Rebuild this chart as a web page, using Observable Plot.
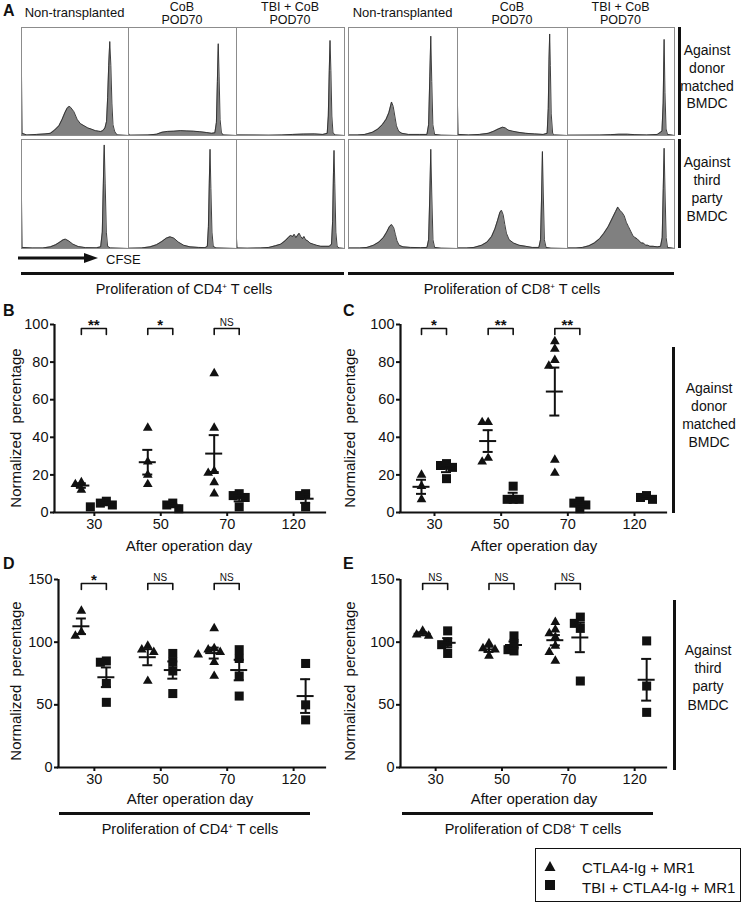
<!DOCTYPE html>
<html><head><meta charset="utf-8">
<script src="https://cdn.jsdelivr.net/npm/d3@7"></script>
<script src="https://cdn.jsdelivr.net/npm/@observablehq/plot@0.6"></script>
<style>
body{margin:0;background:#fff;}
#fig{position:relative;width:742px;height:902px;font-family:"Liberation Sans",Arial,Helvetica,sans-serif;color:#111;overflow:hidden;background:#fff;}
.t{position:absolute;white-space:nowrap;line-height:1;}
.t sup{font-size:0.55em;vertical-align:0.55em;}
</style></head><body><div id="fig"></div><script>
// ---------- labels ----------
const days = ["30", "50", "70", "120"];
const groupNames = ["CTLA4-Ig + MR1", "TBI + CTLA4-Ig + MR1"];
const conditionLabels = [["Non-transplanted"], ["CoB", "POD70"], ["TBI + CoB", "POD70"]];
const rowLabelsDonor = ["Against", "donor", "matched", "BMDC"];
const rowLabelsThird = ["Against", "third", "party", "BMDC"];

// ---------- Panel A: CFSE histograms, [CFSE %, count %] ----------
const cd4DonorNonTx = [[0,56],[0.6,2],[5,0.5],[14,1],[22,1.5],[27,2],[31,5],[35,9],[38,15],[40.5,21],[42.5,25],[44.5,27],[46,26],[49,22],[52,15],[55,11],[58.5,9],[62,7],[65,6],[69,4.5],[72,4],[74,3.7],[76,4.5],[78,7],[79.5,13],[80.5,35],[81.5,65],[82.5,87],[83.5,65],[84.5,30],[85.5,10],[87,4],[88.5,1.5],[90,0.5],[100,0]];
const cd4DonorCoB = [[0,2],[1,0.3],[18,0.5],[26,1.2],[31,3],[36,3.8],[42,4],[48,4.5],[54,4.2],[60,4],[66,3.5],[72,2.8],[77,2],[80,2.5],[81.4,12],[82.3,50],[83.1,85],[83.9,55],[84.8,15],[86,3],[87.5,0.5],[100,0]];
const cd4DonorTBI = [[0,0.5],[30,0.3],[42,0.5],[52,1],[62,1.3],[72,1.5],[80,1],[84,2],[85,18],[85.9,60],[86.6,88],[87.4,60],[88.3,18],[89.3,3],[91,0.5],[100,0]];
const cd8DonorNonTx = [[0,0.5],[8,0.5],[15,1],[22,3],[27,6],[31,10],[34.5,15],[37,21],[39.5,31],[41,27],[42.5,18],[44,9],[46,4],[49,2],[55,1],[65,1],[72,1],[73.5,10],[74.6,55],[75.5,92],[76.4,50],[77.4,10],[79,1],[85,0.3],[100,0]];
const cd8DonorCoB = [[0,28],[0.6,1],[10,0.5],[20,1],[28,2],[33,4],[37,6],[41,7.7],[43.5,7],[46,5],[50,4],[55,3],[62,2],[70,1.5],[78,1],[81.5,2],[82.5,25],[83.2,70],[83.8,94],[84.4,65],[85.2,20],[86.5,2],[88,0.5],[100,0]];
const cd8DonorTBI = [[0,0.3],[30,0.4],[40,0.8],[48,1.2],[56,1.2],[63,0.8],[74,0.5],[84,1],[88.3,4],[89.4,30],[90.3,89],[91.1,40],[92.1,6],[93.5,1],[100,0]];
const cd4ThirdNonTx = [[0,45],[0.6,1],[10,0.5],[20,0.5],[27,1.5],[32,3.5],[36,6],[39,8],[41,8.6],[44,7],[48,4],[53,1.8],[60,0.8],[70,0.6],[74,1.5],[75.5,15],[76.5,60],[77.3,95],[78.2,60],[79.3,15],[80.5,2],[83,0.5],[100,0]];
const cd4ThirdCoB = [[0,1],[1,0.3],[12,0.5],[20,1.5],[26,3.5],[31,6.5],[35,9.5],[38.5,10.7],[42,9.5],[46,6],[51,3],[57,1.5],[65,1],[71,0.8],[73,2],[74,20],[74.8,60],[75.5,91],[76.3,55],[77.3,15],[78.5,2],[81,0.5],[100,0]];
const cd4ThirdTBI = [[0,9],[0.6,0.5],[10,0.3],[22,0.5],[30,1],[36,2.5],[41,4],[45,7],[48,10],[50,12],[52,11],[53.5,13],[55,10],[56.5,12],[58,14],[59.5,11],[61,9],[62.5,11],[64,8],[66,7],[68,5],[71,4],[74,3],[78,2],[82,2],[86,2],[88,4],[89,25],[89.8,70],[90.3,90],[91,60],[92,15],[93.2,2],[95,0.5],[100,0]];
const cd8ThirdNonTx = [[0,0.5],[10,0.5],[17,1],[23,3],[28,6],[32,10],[35,15],[37.5,20],[39.5,22],[41.5,19],[43,13],[44.5,7],[46.5,3],[50,1.5],[57,1],[66,0.8],[72,1],[73.5,8],[74.6,50],[75.5,91],[76.4,50],[77.5,8],[79,1],[85,0.3],[100,0]];
const cd8ThirdCoB = [[0,0.5],[8,0.5],[15,1],[22,3],[27,6],[31,11],[34,18],[36.5,26],[38.5,33],[40,35],[41.5,31],[43,22],[44.5,14],[47,8],[51,5],[56,3],[62,2],[68,1],[74,1],[75.5,8],[76.5,50],[77.2,89],[78,50],[79,8],[80.5,1],[85,0.3],[100,0]];
const cd8ThirdTBI = [[0,0.5],[8,0.5],[14,1],[20,2.5],[25,5],[30,9],[34,14],[38,20],[42,28],[45,34],[47,38],[49,35],[51,33],[53,30],[55,24],[57,20],[59,16],[61,12],[63,10],[65,9],[67,7],[69,5],[71,5],[73,3],[75,3],[77,2],[80,2],[84,1.5],[87,2],[88.5,10],[89.5,55],[90.3,92],[91.2,50],[92.2,10],[93.5,1],[100,0]];

// ---------- Panels B-E: normalized percentage per animal ----------
// B: CD4+, against donor matched BMDC
const cd4DonorCTLA = [[12, 16, 15], [45, 27, 20, 15], [74, 45, 21, 22, 16, 10], []];
const cd4DonorTBIpts = [[6, 5, 3, 4], [2, 4, 5], [10, 9, 8, 3], [10, 9, 3]];
const cd4DonorSig = ["**", "*", "NS"];
// C: CD8+, against donor matched BMDC
const cd8DonorCTLA = [[20, 14, 7], [48, 48, 27, 29], [87, 91, 81, 78, 28, 21], []];
const cd8DonorTBIpts = [[26, 25, 24, 18], [14, 7, 7, 7], [6, 5, 2, 4], [7, 9, 8]];
const cd8DonorSig = ["*", "**", "**"];
// D: CD4+, against third party BMDC
const cd4ThirdCTLA = [[125, 108, 105], [97, 94, 92, 69], [111, 95, 94, 92, 90, 84, 73], []];
const cd4ThirdTBIpts = [[84, 85, 67, 52], [91, 84, 77, 59], [94, 87, 73, 57], [83, 50, 38]];
const cd4ThirdSig = ["*", "NS", "NS"];
// E: CD8+, against third party BMDC
const cd8ThirdCTLA = [[109, 106, 105], [99, 95, 89, 94], [116, 110, 107, 104, 97, 92, 85], []];
const cd8ThirdTBIpts = [[109, 100, 98, 91], [105, 99, 94, 93], [120, 115, 111, 69], [101, 65, 44]];
const cd8ThirdSig = ["NS", "NS", "NS"];

// ---------- helpers ----------
const fig = document.getElementById("fig");
const FONT = "Liberation Sans, Arial, Helvetica, sans-serif";
function place(node, left, top) {
  node.style.position = "absolute"; node.style.left = left + "px"; node.style.top = top + "px";
  fig.appendChild(node);
}
function txt(html, x, y, {size = 14, weight = "normal", anchor = "middle", rotate = 0} = {}) {
  const d = document.createElement("div");
  d.className = "t"; d.innerHTML = html;
  d.style.left = x + "px"; d.style.top = y + "px";
  d.style.fontSize = size + "px"; d.style.fontWeight = weight;
  const tx = anchor === "middle" ? "-50%" : anchor === "end" ? "-100%" : "0";
  d.style.transform = `translate(${tx},-50%)` + (rotate ? ` rotate(${rotate}deg)` : "");
  fig.appendChild(d);
}
function box(x, y, w, h, color = "#111") {
  const d = document.createElement("div");
  d.style.cssText = `position:absolute;left:${x}px;top:${y}px;width:${w}px;height:${h}px;background:${color};`;
  fig.appendChild(d);
}

// ---------- Panel A ----------
txt("A", 3, 11, {size: 16, weight: "bold", anchor: "start"});
const colEdges = [[21, 128, 236, 344], [348, 457, 567, 674]];
const rowEdges = [[27, 135], [139, 248]];
const histGrid = [
  [cd4DonorNonTx, cd4DonorCoB, cd4DonorTBI, cd8DonorNonTx, cd8DonorCoB, cd8DonorTBI],
  [cd4ThirdNonTx, cd4ThirdCoB, cd4ThirdTBI, cd8ThirdNonTx, cd8ThirdCoB, cd8ThirdTBI]
];
histGrid.forEach((row, r) => {
  row.forEach((data, c) => {
    const g = Math.floor(c / 3), k = c % 3;
    const x0 = colEdges[g][k], x1 = colEdges[g][k + 1];
    const [y0, y1] = rowEdges[r];
    const p = Plot.plot({
      width: x1 - x0, height: y1 - y0, margin: 0,
      x: {domain: [0, 100], axis: null}, y: {domain: [0, 100], axis: null},
      style: {background: "transparent", overflow: "visible"},
      marks: [
        Plot.areaY(data, {x: d => d[0], y: d => d[1], fill: "#808080", curve: "linear"}),
        Plot.lineY(data, {x: d => d[0], y: d => d[1], stroke: "#2b2b2b", strokeWidth: 0.9, curve: "linear"}),
        Plot.frame({stroke: "#8c8c8c", strokeWidth: 1})
      ]
    });
    place(p, x0, y0);
  });
});
// condition headers
colEdges.forEach(edges => {
  conditionLabels.forEach((lines, k) => {
    const cx = (edges[k] + edges[k + 1]) / 2;
    if (lines.length === 1) txt(lines[0], cx, 11.5, {size: 13});
    else { txt(lines[0], cx, 6.5, {size: 12.5}); txt(lines[1], cx, 19.5, {size: 12.5}); }
  });
});
// right side bars and labels
box(678, 27, 3, 108); box(678, 139, 3, 109);
[50, 68, 85.5, 103].forEach((y, i) => txt(rowLabelsDonor[i], 707, y, {size: 14}));
[162, 180, 198, 216].forEach((y, i) => txt(rowLabelsThird[i], 707, y, {size: 14}));
// CFSE arrow
(function () {
  const s = document.createElementNS("http://www.w3.org/2000/svg", "svg");
  s.setAttribute("width", 90); s.setAttribute("height", 14);
  s.innerHTML = '<line x1="0" y1="7" x2="70" y2="7" stroke="#111" stroke-width="3"/><path d="M66,2 L80,7 L66,12 Z" fill="#111"/>';
  place(s, 18, 251);
})();
txt("CFSE", 106, 258.5, {size: 13, anchor: "start"});
box(21, 272, 323, 3); box(348, 272, 326, 3);
txt("Proliferation of CD4<sup>+</sup> T cells", 184, 288.5, {size: 14.5});
txt("Proliferation of CD8<sup>+</sup> T cells", 512, 288.5, {size: 14.5});

// ---------- Panels B-E ----------
function scatter(cfg) {
  const {left, top, width, height, ml, mr, mt, mb, xDomain, yMax, yTicks, tri, sq, sig} = cfg;
  const innerW = width - ml - mr, innerH = height - mt - mb;
  const ux = (xDomain[1] - xDomain[0]) / innerW; // data units per px
  const uy = yMax / innerH;
  const pts = [], stats = [];
  [[tri, "tri", -13], [sq, "sq", 12]].forEach(([arr, g, off]) => {
    arr.forEach((vals, i) => {
      if (!vals.length) return;
      const cx = i + off * ux;
      const placed = [];
      const sorted = vals.slice().sort((a, b) => b - a);
      for (const v of sorted) {
        const yp = v / uy;
        const cands = [0, -6, 6, -11, 11, -16, 16];
        let o = 0;
        for (const c of cands) {
          if (placed.every(q => Math.abs(q.yp - yp) >= 6.5 || Math.abs(q.o - c) >= 6)) { o = c; break; }
        }
        placed.push({yp, o});
        pts.push({x: cx + o * ux, y: v, g});
      }
      const m = d3.mean(vals);
      const se = vals.length > 1 ? d3.deviation(vals) / Math.sqrt(vals.length) : 0;
      stats.push({cx, m, lo: m - se, hi: m + se});
    });
  });
  const yTop = yMax - 4 * uy, yLeg = yMax - 10 * uy;
  const brackets = [], sigs = [];
  sig.forEach((s, i) => {
    const a = i - 13 * ux, b = i + 12 * ux;
    brackets.push({k: i, x: a, y: yLeg}, {k: i, x: a, y: yTop}, {k: i, x: b, y: yTop}, {k: i, x: b, y: yLeg});
    sigs.push({x: (a + b) / 2, y: yTop, s});
  });
  const p = Plot.plot({
    width, height, marginLeft: ml, marginRight: mr, marginTop: mt, marginBottom: mb,
    x: {domain: xDomain, label: null}, y: {domain: [0, yMax], label: null},
    style: {background: "transparent", overflow: "visible", fontSize: "14.5px", fontFamily: FONT, color: "#111"},
    marks: [
      Plot.axisY({ticks: yTicks, tickSize: 4, tickPadding: 2, strokeWidth: 2, label: null}),
      Plot.axisX({ticks: [0, 1, 2, 3], tickFormat: i => days[i], tickSize: 4, tickPadding: 2, strokeWidth: 2, label: null}),
      Plot.ruleX([xDomain[0]], {y1: 0, y2: yMax, strokeWidth: 2.2, stroke: "#111"}),
      Plot.ruleY([0], {x1: xDomain[0], x2: xDomain[1], strokeWidth: 2.2, stroke: "#111", strokeLinecap: "square"}),
      Plot.dot(pts.filter(d => d.g === "tri"), {x: "x", y: "y", symbol: "triangle", r: 3.6, fill: "#111", stroke: "none"}),
      Plot.dot(pts.filter(d => d.g === "sq"), {x: "x", y: "y", symbol: "square", r: 5.1, fill: "#111", stroke: "none"}),
      Plot.ruleX(stats, {x: "cx", y1: "lo", y2: "hi", strokeWidth: 2, stroke: "#111"}),
      Plot.ruleY(stats, {y: "m", x1: d => d.cx - 8.5 * ux, x2: d => d.cx + 8.5 * ux, strokeWidth: 2, stroke: "#111"}),
      Plot.ruleY(stats, {y: "hi", x1: d => d.cx - 5 * ux, x2: d => d.cx + 5 * ux, strokeWidth: 2, stroke: "#111"}),
      Plot.ruleY(stats, {y: "lo", x1: d => d.cx - 5 * ux, x2: d => d.cx + 5 * ux, strokeWidth: 2, stroke: "#111"}),
      Plot.line(brackets, {x: "x", y: "y", z: "k", stroke: "#111", strokeWidth: 1.6}),
      Plot.text(sigs.filter(d => d.s !== "NS"), {x: "x", y: "y", text: "s", lineAnchor: "bottom", dy: 1, fontSize: 15, fontWeight: "bold", fill: "#111"}),
      Plot.text(sigs.filter(d => d.s === "NS"), {x: "x", y: "y", text: "s", lineAnchor: "bottom", dy: -3, fontSize: 10, fill: "#111"})
    ]
  });
  place(p, left, top);
}

scatter({left: 0, top: 300, width: 340, height: 250, ml: 54, mr: 15, mt: 24, mb: 38,
  xDomain: [-0.6, 3.48], yMax: 100, yTicks: [0, 20, 40, 60, 80, 100],
  tri: cd4DonorCTLA, sq: cd4DonorTBIpts, sig: cd4DonorSig});
scatter({left: 355, top: 300, width: 321, height: 250, ml: 45, mr: 10, mt: 24, mb: 38,
  xDomain: [-0.51, 3.48], yMax: 100, yTicks: [0, 20, 40, 60, 80, 100],
  tri: cd8DonorCTLA, sq: cd8DonorTBIpts, sig: cd8DonorSig});
scatter({left: 0, top: 560, width: 340, height: 250, ml: 58, mr: 15, mt: 19, mb: 43,
  xDomain: [-0.54, 3.48], yMax: 150, yTicks: [0, 50, 100, 150],
  tri: cd4ThirdCTLA, sq: cd4ThirdTBIpts, sig: cd4ThirdSig});
scatter({left: 355, top: 560, width: 321, height: 250, ml: 45, mr: 10, mt: 19, mb: 43,
  xDomain: [-0.53, 3.48], yMax: 150, yTicks: [0, 50, 100, 150],
  tri: cd8ThirdCTLA, sq: cd8ThirdTBIpts, sig: cd8ThirdSig});

// panel letters and axis titles
txt("B", 3, 311, {size: 16, weight: "bold", anchor: "start"});
txt("C", 343, 311, {size: 16, weight: "bold", anchor: "start"});
txt("D", 3, 564, {size: 16, weight: "bold", anchor: "start"});
txt("E", 343, 564, {size: 16, weight: "bold", anchor: "start"});
const yTitle = "Normalized&nbsp; percentage";
txt(yTitle, 15, 428, {size: 15, rotate: -90});
txt(yTitle, 349, 428, {size: 15, rotate: -90});
txt(yTitle, 15, 681, {size: 15, rotate: -90});
txt(yTitle, 349, 681, {size: 15, rotate: -90});
const xTitle = "After operation day";
txt(xTitle, 189, 545, {size: 15});
txt(xTitle, 534, 545, {size: 15});
txt(xTitle, 190, 798, {size: 15});
txt(xTitle, 534, 798, {size: 15});
// right brackets and labels
box(672, 347, 2.5, 166); box(673, 600, 2.5, 170);
[388, 406, 424, 442].forEach((y, i) => txt(rowLabelsDonor[i], 709, y, {size: 14}));
[650, 668, 686, 705].forEach((y, i) => txt(rowLabelsThird[i], 708, y, {size: 14}));
// bottom group bars
box(59, 812, 251, 3); box(402, 812, 251, 3);
txt("Proliferation of CD4<sup>+</sup> T cells", 190, 829, {size: 14.5});
txt("Proliferation of CD8<sup>+</sup> T cells", 533, 829, {size: 14.5});

// legend
(function () {
  const d = document.createElement("div");
  d.style.cssText = "position:absolute;left:535px;top:848px;width:206px;height:54px;border:1.5px solid #111;box-sizing:border-box;";
  fig.appendChild(d);
  const s = document.createElementNS("http://www.w3.org/2000/svg", "svg");
  s.setAttribute("width", 20); s.setAttribute("height", 40);
  s.innerHTML = '<path d="M10,3 L15.5,13 L4.5,13 Z" fill="#111"/><rect x="5" y="22" width="10" height="10" fill="#111"/>';
  place(s, 540, 858);
  txt(groupNames[0], 582, 867, {size: 15, anchor: "start"});
  txt(groupNames[1], 582, 887, {size: 15, anchor: "start"});
})();
</script></body></html>
